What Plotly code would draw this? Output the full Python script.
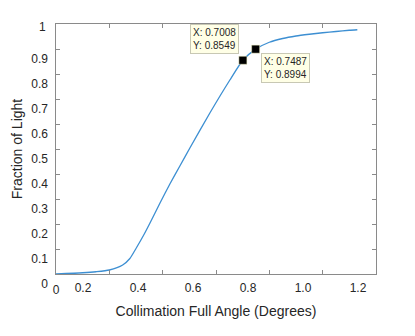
import plotly.graph_objects as go

# Curve data
angle = [0, 0.1, 0.15, 0.2, 0.25, 0.277, 0.30, 0.33, 0.352, 0.39, 0.427, 0.465, 0.502,
         0.577, 0.652, 0.7008, 0.7487, 0.80, 0.85, 0.90, 0.95, 1.0, 1.05, 1.10, 1.13]
fraction = [0, 0.005, 0.009, 0.016, 0.036, 0.062, 0.102, 0.158, 0.203, 0.284, 0.360, 0.433, 0.504,
            0.644, 0.776, 0.8549, 0.8994, 0.927, 0.942, 0.952, 0.959, 0.965, 0.970, 0.975, 0.977]

# Data tips
tip_x = [0.7008, 0.7487]
tip_y = [0.8549, 0.8994]

# Tick values / labels
x_tickvals = [0, 0.2, 0.4, 0.6, 0.8, 1.0, 1.2]
x_ticktext = ["0", "0.2", "0.4", "0.6", "0.8", "1.0", "1.2"]
y_tickvals = [0, 0.1, 0.2, 0.3, 0.4, 0.5, 0.6, 0.7, 0.8, 0.9, 1.0]
y_ticktext = ["0", "0.1", "0.2", "0.3", "0.4", "0.5", "0.6", "0.7", "0.8", "0.9", "1"]

AX = "#8a8a8a"
TXT = "#262626"
FONT = "Liberation Sans"

fig = go.Figure()
fig.add_trace(go.Scatter(x=angle, y=fraction, mode="lines",
                         line=dict(color="#3d8fd2", width=1.3, shape="spline", smoothing=0.6),
                         showlegend=False, hoverinfo="skip"))
fig.add_trace(go.Scatter(x=tip_x, y=tip_y, mode="markers",
                         marker=dict(symbol="square", size=8, color="black",
                                     line=dict(color="#f0f0c0", width=0.5)),
                         showlegend=False, hoverinfo="skip"))

fig.update_layout(
    width=415, height=336,
    margin=dict(l=56, r=39, t=24, b=62),
    paper_bgcolor="white", plot_bgcolor="white",
    font=dict(family=FONT, size=12, color=TXT),
    xaxis=dict(range=[0, 1.2], tickvals=x_tickvals,
               ticktext=[x_ticktext[0]] + [""] * (len(x_tickvals) - 1),
               ticks="inside", ticklen=4, tickcolor=AX, showline=True, linecolor=AX,
               linewidth=1, mirror="ticks", showgrid=False, zeroline=False,
               ticklabelstandoff=5,
               title=dict(text="Collimation Full Angle (Degrees)", font=dict(size=14), standoff=9)),
    xaxis2=dict(overlaying="x", side="bottom", range=[0.1018, 1.2655],
                tickvals=x_tickvals[1:], ticktext=x_ticktext[1:], ticks="",
                showline=False, showgrid=False, zeroline=False, ticklabelstandoff=5),
    yaxis=dict(range=[0, 1], tickvals=y_tickvals,
               ticktext=[""] * (len(y_tickvals) - 1) + [y_ticktext[-1]],
               ticks="inside", ticklen=4, tickcolor=AX, showline=True, linecolor=AX,
               linewidth=1, mirror="ticks", showgrid=False, zeroline=False,
               ticklabelshift=3, ticklabelstandoff=7,
               title=dict(text="Fraction of Light", font=dict(size=14), standoff=13)),
    yaxis2=dict(overlaying="y", side="left", range=[0, 1],
                tickvals=y_tickvals[:-1], ticktext=y_ticktext[:-1], ticks="",
                showline=False, showgrid=False, zeroline=False,
                ticklabelshift=10, ticklabelstandoff=7),
)
# invisible trace to activate the label-only overlay axes
fig.add_trace(go.Scatter(x=[0.5], y=[0.5], xaxis="x2", yaxis="y2", mode="markers",
                         marker=dict(opacity=0), showlegend=False, hoverinfo="skip"))

tip_style = dict(showarrow=False, bgcolor="#ffffe6", bordercolor="#c8c8b4", borderwidth=1,
                 borderpad=2, font=dict(family=FONT, size=10, color=TXT), align="left",
                 xref="x", yref="y")
fig.add_annotation(x=tip_x[0], y=tip_y[0],
                   text=f"X: {tip_x[0]:.4f}<br>Y: {tip_y[0]:.4f}",
                   xshift=-28, yshift=21, **tip_style)
fig.add_annotation(x=tip_x[1], y=tip_y[1],
                   text=f"X: {tip_x[1]:.4f}<br>Y: {tip_y[1]:.4f}",
                   xshift=30, yshift=-19, **tip_style)

fig.write_html("out.html")
